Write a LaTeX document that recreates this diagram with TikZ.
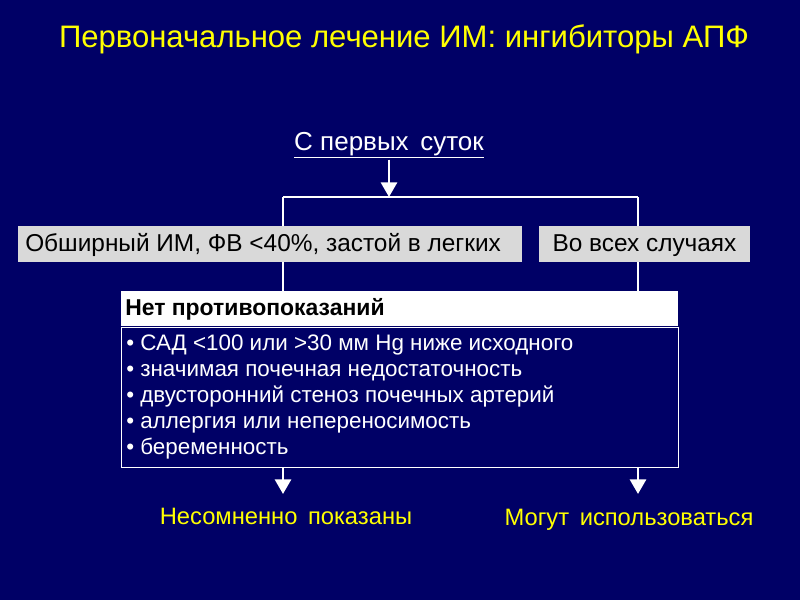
\documentclass[tikz,border=0pt]{standalone}
\usepackage{fontspec}
\setmainfont{Liberation Sans}
\usetikzlibrary{arrows.meta}
\definecolor{bg}{RGB}{0,0,102}
\definecolor{ttl}{RGB}{255,255,0}
\definecolor{gbox}{RGB}{217,217,217}
\begin{document}
\begin{tikzpicture}[x=0.75pt,y=-0.75pt,
  gray/.style={fill=gbox,inner sep=0,minimum height=27pt,text=black},
  wline/.style={draw=white,line width=2.2pt},
  warrow/.style={wline,-{Triangle[length=11pt,width=12pt]}},
  lbl/.style={text=ttl,font=\fontsize{17.8}{20}\selectfont,anchor=base}]
\fill[bg] (0,0) rectangle (800,600);
\useasboundingbox (0,0) rectangle (800,600);
\node[text=ttl,font=\fontsize{23.3}{27}\selectfont,anchor=base] (title) at (404,47) {Первоначальное лечение ИМ: ингибиторы АПФ};
\node[text=white,font=\fontsize{19.5}{22}\selectfont,inner sep=1pt,anchor=base] (start) at (389,150) {\underline{С первых\, суток}};
\coordinate (jc) at (389,197);
\coordinate (jl) at (283,197);
\coordinate (jr) at (638,197);
\coordinate (el) at (283,494);
\coordinate (er) at (638,494);
\draw[wline] (jl) -- (jr);
\draw[wline] (jl) -- (283,292);
\draw[wline] (jr) -- (638,292);
\draw[warrow] (start.south) -- (jc);
\node[gray,minimum width=378pt,anchor=north west] (b1) at (18,226) {};
\node[anchor=base west,inner sep=0,font=\fontsize{18.3}{20}\selectfont] (t1) at (25,251) {Обширный ИМ, ФВ <40\%, застой в легких};
\node[gray,minimum width=158pt,anchor=north west] (b2) at (539,226) {};
\node[anchor=base,inner sep=0,font=\fontsize{18.3}{20}\selectfont] (t2) at (644.5,251) {Во всех случаях};
\node[fill=white,minimum width=417.75pt,minimum height=26.25pt,inner sep=0,anchor=north west] (hdr) at (121,291) {};
\node[anchor=base west,inner sep=0,font=\bfseries\fontsize{17.2}{20}\selectfont] (ht) at (125,315) {Нет противопоказаний};
\node[draw=white,line width=0.8pt,minimum width=417.75pt,minimum height=105pt,inner sep=0,anchor=north west] (list) at (121,327) {};
\node[anchor=north west,text=white,align=left,font=\fontsize{16.8}{19.5}\selectfont,inner sep=0] (items) at (126,335)
{• САД <100 или >30 мм Hg ниже исходного\\
• значимая почечная недостаточность\\
• двусторонний стеноз почечных артерий\\
• аллергия или непереносимость\\
• беременность};
\draw[warrow] (283,467) -- (el);
\draw[warrow] (638,467) -- (er);
\node[lbl] (l1) at (286,524) {Несомненно\, показаны};
\node[lbl] (l2) at (629,525) {Могут\, использоваться};
\end{tikzpicture}
\end{document}
